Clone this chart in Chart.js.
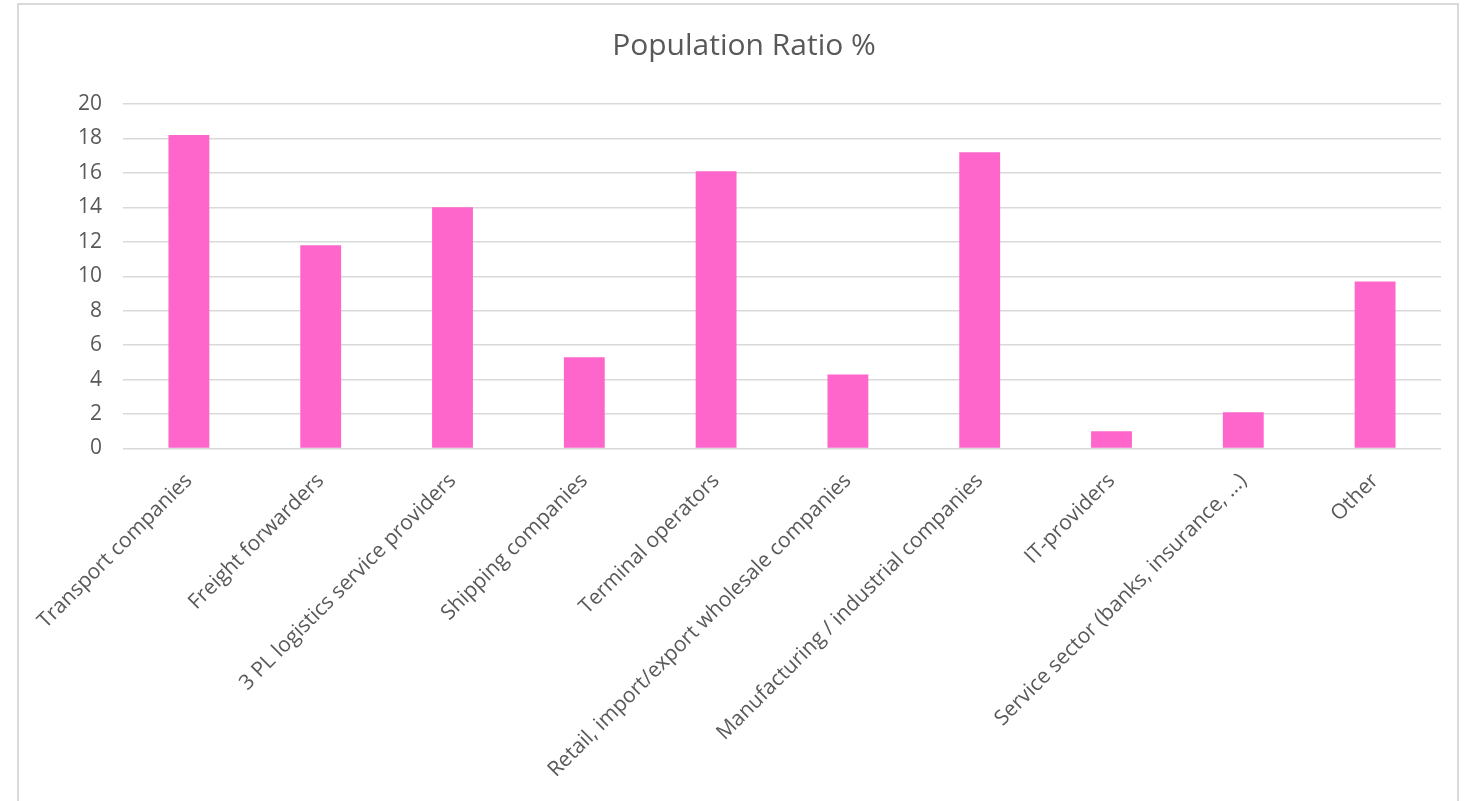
<!DOCTYPE html>
<html>
<head>
<meta charset="utf-8">
<title>Population Ratio %</title>
<script src="https://cdn.jsdelivr.net/npm/chart.js@4/dist/chart.umd.min.js"></script>
<style>
  html, body { margin: 0; padding: 0; background: #ffffff; overflow: hidden; }
  #frame {
    position: absolute; left: 17px; top: 3px; width: 1442px; height: 900px;
    border: 2px solid #d9d9d9; box-sizing: border-box;
  }
  #chart { position: absolute; left: 0; top: 0; }
</style>
</head>
<body>
<div id="frame"></div>
<canvas id="chart" width="1468" height="801"></canvas>
<script>
// Respondent groups and their share of the population (%)
const categories = [
  'Transport companies',
  'Freight forwarders',
  '3 PL logistics service providers',
  'Shipping companies',
  'Terminal operators',
  'Retail, import/export wholesale companies',
  'Manufacturing / industrial companies',
  'IT-providers',
  'Service sector (banks, insurance, ...)',
  'Other'
];
const populationRatio = [18.2, 11.8, 14.0, 5.3, 16.1, 4.3, 17.2, 1.0, 2.1, 9.7];
const yTicks = [0, 2, 4, 6, 8, 10, 12, 14, 16, 18, 20];

const textColor = '#595959';
const gridColor = '#d9d9d9';
const fontFamily = '"Open Sans", "Liberation Sans", sans-serif';

// left padding centres the title over the framed panel; the y axis fills the rest up to the plot
const padLeft = 47;
const plotLeft = 123;
const plotBottom = 448.5;

new Chart(document.getElementById('chart'), {
  type: 'bar',
  data: {
    labels: categories,
    datasets: [{
      label: 'Population Ratio %',
      data: populationRatio,
      backgroundColor: '#ff66cc',
      borderWidth: 0,
      categoryPercentage: 1.0,
      barPercentage: 0.31
    }]
  },
  options: {
    responsive: false,
    animation: false,
    layout: { padding: { left: padLeft, right: 27, top: 0, bottom: 0 } },
    plugins: {
      legend: { display: false },
      tooltip: { enabled: false },
      title: {
        display: true,
        text: 'Population Ratio %',
        color: textColor,
        font: { family: fontFamily, size: 30, weight: 'normal', lineHeight: 1.2 },
        padding: { top: 28, bottom: 40 }
      }
    },
    scales: {
      x: {
        grid: { display: false, drawTicks: false },
        border: { display: false },
        ticks: {
          color: textColor,
          font: { family: fontFamily, size: 21 },
          maxRotation: 45,
          minRotation: 45,
          autoSkip: false,
          padding: 20
        },
        afterFit: (scale) => { scale.height = 801 - plotBottom; }
      },
      y: {
        min: 0,
        max: 20,
        afterBuildTicks: (scale) => { scale.ticks = yTicks.map(v => ({ value: v })); },
        grid: { color: gridColor, lineWidth: 1.5, drawTicks: false },
        border: { display: false },
        ticks: {
          color: textColor,
          font: { family: fontFamily, size: 21 },
          padding: 21
        },
        afterFit: (scale) => { scale.width = plotLeft - padLeft; }
      }
    }
  }
});
</script>
</body>
</html>
